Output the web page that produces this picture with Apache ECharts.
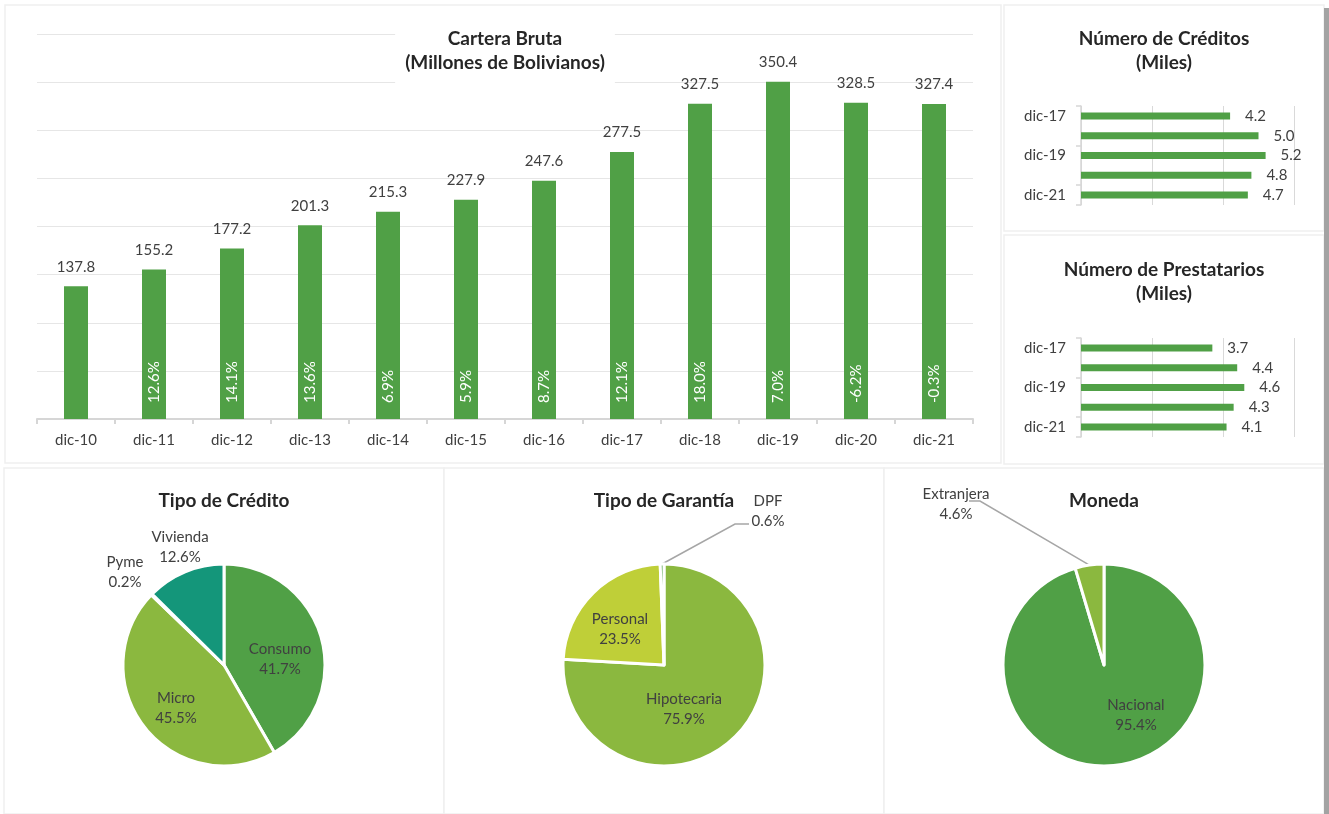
<!DOCTYPE html>
<html>
<head>
<meta charset="utf-8">
<title>Cartera Bruta</title>
<script src="https://cdn.jsdelivr.net/npm/echarts@6/dist/echarts.min.js"></script>
<style>
  html, body { margin: 0; padding: 0; background: #ffffff; }
  #chart { width: 1329px; height: 814px; }
</style>
</head>
<body>
<div id="chart"></div>
<script>
// ---- data ----
const years = ['dic-10', 'dic-11', 'dic-12', 'dic-13', 'dic-14', 'dic-15', 'dic-16', 'dic-17', 'dic-18', 'dic-19', 'dic-20', 'dic-21'];
const carteraBruta = [137.8, 155.2, 177.2, 201.3, 215.3, 227.9, 247.6, 277.5, 327.5, 350.4, 328.5, 327.4];
const crecimiento = [null, 12.6, 14.1, 13.6, 6.9, 5.9, 8.7, 12.1, 18.0, 7.0, -6.2, -0.3];

const recentYears = ['dic-17', 'dic-18', 'dic-19', 'dic-20', 'dic-21'];
const numCreditos = [4.2, 5.0, 5.2, 4.8, 4.7];
const numPrestatarios = [3.7, 4.4, 4.6, 4.3, 4.1];

const tipoCreditoNames = ['Consumo', 'Micro', 'Pyme', 'Vivienda'];
const tipoCreditoValues = [41.7, 45.5, 0.2, 12.6];
const garantiaNames = ['Hipotecaria', 'Personal', 'DPF'];
const garantiaValues = [75.9, 23.5, 0.6];
const monedaNames = ['Nacional', 'Extranjera'];
const monedaValues = [95.4, 4.6];

// ---- styling ----
const FONT = 'Lato, "Open Sans", sans-serif';
const TEXT = '#404040';
const GREEN = '#50A046';
const LIGHT_GREEN = '#8BB83F';
const TEAL = '#14967A';
const YELLOW_GREEN = '#BFCF38';
const GRID_LINE = '#e6e6e6';
const AXIS_LINE = '#d6d6d6';
const LEADER = '#a6a6a6';

const chart = echarts.init(document.getElementById('chart'));

// Centred title; the horizontal padding is subtracted so the text itself is centred on cx.
function titleAt(text, cx, top, extra) {
  const opt = Object.assign({
    text: text,
    top: top,
    textAlign: 'center',
    padding: 5,
    textStyle: { fontFamily: FONT, fontSize: 19, fontWeight: 'bold', color: '#262626', lineHeight: 24 }
  }, extra || {});
  const pad = Array.isArray(opt.padding) ? opt.padding[3] : opt.padding;
  opt.left = cx - pad;
  return opt;
}

// Pie builder: labels are placed relative to the pie centre; outside labels
// with a leader line get their start point on the rim at the slice's mid angle.
function makePie(names, values, colors, cx, cy, r, labelSpec) {
  const total = values.reduce((a, b) => a + b, 0);
  const midAngles = [];
  let acc = 0;
  values.forEach(v => { midAngles.push((acc + v / 2) / total * 2 * Math.PI); acc += v; });
  return {
    type: 'pie',
    center: [cx, cy],
    radius: r,
    startAngle: 90,
    clockwise: true,
    avoidLabelOverlap: false,
    silent: true,
    itemStyle: { borderColor: '#ffffff', borderWidth: 3 },
    labelLine: { show: false },
    label: {
      fontFamily: FONT, fontSize: 15, color: TEXT, lineHeight: 20,
      formatter: p => p.name + '\n' + values[p.dataIndex].toFixed(1) + '%'
    },
    labelLayout: function (params) {
      const s = labelSpec[params.dataIndex];
      const out = { x: cx + s.dx, y: cy + s.dy, align: 'center', verticalAlign: 'middle' };
      if (s.line) {
        const a = midAngles[params.dataIndex];
        out.labelLinePoints = [
          [cx + r * Math.sin(a), cy - r * Math.cos(a)],
          [cx + s.line[0][0], cy + s.line[0][1]],
          [cx + s.line[1][0], cy + s.line[1][1]]
        ];
      }
      return out;
    },
    data: names.map((n, i) => {
      const s = labelSpec[i];
      const item = { name: n, value: values[i], itemStyle: { color: colors[i] } };
      if (!s.inside) {
        item.label = { position: 'outside' };
        item.labelLine = { show: !!s.line, lineStyle: { color: LEADER, width: 1.5 } };
      } else {
        item.label = { position: 'inside' };
      }
      return item;
    })
  };
}

const panels = [
  [5, 5, 996, 458],
  [1004, 5, 320, 226],
  [1004, 235, 320, 229],
  [4, 468, 440, 346],
  [444, 468, 440, 346],
  [884, 468, 440, 346]
];

const option = {
  backgroundColor: '#ffffff',
  animation: false,
  graphic: panels.map(p => ({
    type: 'rect', z: -10, silent: true,
    shape: { x: p[0], y: p[1], width: p[2], height: p[3] },
    style: { fill: '#ffffff', stroke: '#f0f0f0', lineWidth: 1.5 }
  })).concat([{
    type: 'rect', z: -10, silent: true,
    shape: { x: 1324, y: 8, width: 5, height: 806 },
    style: { fill: '#a3a3a3' }
  }]),
  title: [
    titleAt('Cartera Bruta\n(Millones de Bolivianos)', 505, 22, {
      backgroundColor: '#ffffff', padding: [5, 10, 12, 10]
    }),
    titleAt('Número de Créditos\n(Miles)', 1164, 22),
    titleAt('Número de Prestatarios\n(Miles)', 1164, 253),
    titleAt('Tipo de Crédito', 224, 484),
    titleAt('Tipo de Garantía', 664, 484),
    titleAt('Moneda', 1104, 484)
  ],
  grid: [
    { left: 37, top: 34, width: 936, height: 385 },
    { left: 1081, top: 106, width: 213, height: 99 },
    { left: 1081, top: 338, width: 213, height: 99 }
  ],
  xAxis: [
    {
      gridIndex: 0, type: 'category', data: years,
      axisLine: { lineStyle: { color: AXIS_LINE, width: 2 } },
      axisTick: { show: true, length: 5, lineStyle: { color: AXIS_LINE, width: 2 } },
      axisLabel: { fontFamily: FONT, fontSize: 15, color: TEXT, margin: 14 }
    },
    {
      gridIndex: 1, type: 'value', min: 0, max: 6, interval: 2,
      axisLine: { show: false }, axisTick: { show: false }, axisLabel: { show: false },
      splitLine: { lineStyle: { color: '#d9d9d9' } }
    },
    {
      gridIndex: 2, type: 'value', min: 0, max: 6, interval: 2,
      axisLine: { show: false }, axisTick: { show: false }, axisLabel: { show: false },
      splitLine: { lineStyle: { color: '#d9d9d9' } }
    }
  ],
  yAxis: [
    {
      gridIndex: 0, type: 'value', min: 0, max: 400, interval: 50,
      axisLine: { show: false }, axisTick: { show: false }, axisLabel: { show: false },
      splitLine: { lineStyle: { color: GRID_LINE } }
    },
    {
      gridIndex: 1, type: 'category', data: recentYears, inverse: true,
      axisLine: { lineStyle: { color: AXIS_LINE, width: 1.5 } },
      axisTick: { show: true, length: 5, lineStyle: { color: AXIS_LINE, width: 1.5 } },
      axisLabel: { interval: 1, fontFamily: FONT, fontSize: 15, color: TEXT, margin: 15 }
    },
    {
      gridIndex: 2, type: 'category', data: recentYears, inverse: true,
      axisLine: { lineStyle: { color: AXIS_LINE, width: 1.5 } },
      axisTick: { show: true, length: 5, lineStyle: { color: AXIS_LINE, width: 1.5 } },
      axisLabel: { interval: 1, fontFamily: FONT, fontSize: 15, color: TEXT, margin: 15 }
    }
  ],
  series: [
    {
      type: 'bar', xAxisIndex: 0, yAxisIndex: 0, data: carteraBruta,
      barWidth: 24, itemStyle: { color: GREEN }, silent: true,
      label: {
        show: true, position: 'top', distance: 12,
        fontFamily: FONT, fontSize: 15, color: TEXT,
        formatter: p => p.value.toFixed(1)
      }
    },
    {
      // annual growth, written inside the bars
      type: 'bar', xAxisIndex: 0, yAxisIndex: 0, data: carteraBruta,
      barWidth: 24, barGap: '-100%', itemStyle: { color: 'rgba(0,0,0,0)' }, silent: true,
      label: {
        show: true, position: 'insideBottom', distance: 16, rotate: 90,
        align: 'left', verticalAlign: 'middle',
        fontFamily: FONT, fontSize: 15, color: '#ffffff',
        formatter: p => crecimiento[p.dataIndex] === null ? '' : crecimiento[p.dataIndex].toFixed(1) + '%'
      }
    },
    {
      type: 'bar', xAxisIndex: 1, yAxisIndex: 1, data: numCreditos,
      barWidth: 7, itemStyle: { color: GREEN }, silent: true,
      label: {
        show: true, position: 'right', distance: 15,
        fontFamily: FONT, fontSize: 15, color: TEXT,
        formatter: p => p.value.toFixed(1)
      }
    },
    {
      type: 'bar', xAxisIndex: 2, yAxisIndex: 2, data: numPrestatarios,
      barWidth: 7, itemStyle: { color: GREEN }, silent: true,
      label: {
        show: true, position: 'right', distance: 15,
        fontFamily: FONT, fontSize: 15, color: TEXT,
        formatter: p => p.value.toFixed(1)
      }
    },
    makePie(tipoCreditoNames, tipoCreditoValues, [GREEN, LIGHT_GREEN, YELLOW_GREEN, TEAL], 224, 665, 101, [
      { inside: true, dx: 56, dy: -6 },
      { inside: true, dx: -48, dy: 43 },
      { inside: false, dx: -99, dy: -93 },
      { inside: false, dx: -44, dy: -118 }
    ]),
    makePie(garantiaNames, garantiaValues, [LIGHT_GREEN, YELLOW_GREEN, GREEN], 664, 665, 101, [
      { inside: true, dx: 20, dy: 44 },
      { inside: true, dx: -44, dy: -36 },
      { inside: false, dx: 104, dy: -154, line: [[71, -141], [85, -141]] }
    ]),
    makePie(monedaNames, monedaValues, [GREEN, LIGHT_GREEN], 1104, 665, 101, [
      { inside: true, dx: 32, dy: 50 },
      { inside: false, dx: -148, dy: -161, line: [[-124, -164], [-135, -164]] }
    ])
  ]
};

chart.setOption(option);
</script>
</body>
</html>
